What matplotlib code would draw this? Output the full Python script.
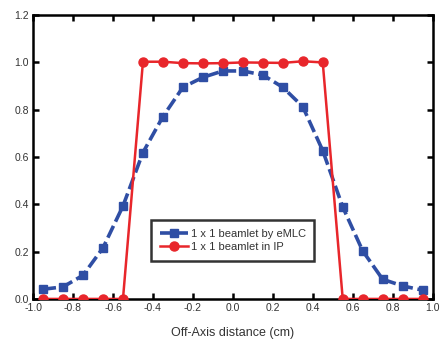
import matplotlib
matplotlib.use("Agg")
import matplotlib.pyplot as plt

x_emlc = [-0.95, -0.85, -0.75, -0.65, -0.55, -0.45, -0.35, -0.25, -0.15, -0.05,
          0.05, 0.15, 0.25, 0.35, 0.45, 0.55, 0.65, 0.75, 0.85, 0.95]
y_emlc = [0.041, 0.051, 0.100, 0.216, 0.393, 0.619, 0.771, 0.895, 0.937, 0.964,
          0.964, 0.947, 0.895, 0.813, 0.627, 0.389, 0.203, 0.083, 0.055, 0.037]
x_ip = [-0.95, -0.85, -0.75, -0.65, -0.55, -0.45, -0.35, -0.25, -0.15, -0.05,
        0.05, 0.15, 0.25, 0.35, 0.45, 0.55, 0.65, 0.75, 0.85, 0.95]
y_ip = [0.0, 0.0, 0.0, 0.0, 0.0, 1.003, 1.003, 0.997, 0.996, 0.997,
        1.0, 0.999, 0.998, 1.005, 1.0, 0.0, 0.0, 0.0, 0.0, 0.0]
xticks = [-1.0, -0.8, -0.6, -0.4, -0.2, 0.0, 0.2, 0.4, 0.6, 0.8, 1.0]
yticks = [0.0, 0.2, 0.4, 0.6, 0.8, 1.0, 1.2]

plt.rcParams['font.family'] = ['Liberation Sans', 'DejaVu Sans']

fig = plt.figure(figsize=(4.41, 3.44), dpi=100)
ax = fig.add_axes([0.075, 0.131, 0.906, 0.825])

blue = '#2f4ea4'
red = '#e8262b'
ax.plot(x_emlc, y_emlc, color=blue, lw=2.6, ls=(0, (3.6, 1.3)), marker='s',
        ms=6, mec=blue, mfc=blue, label='1 x 1 beamlet by eMLC', zorder=3)
ax.plot(x_ip, y_ip, color=red, lw=1.8, marker='o', ms=6.5, mec=red, mfc=red,
        label='1 x 1 beamlet in IP', zorder=4)

ax.set_xlim(-1.0, 1.0)
ax.set_ylim(0.0, 1.2)
ax.set_xticks(xticks)
ax.set_yticks(yticks)
ax.set_xticklabels([f'{t:.1f}' for t in xticks])
ax.set_yticklabels([f'{t:.1f}' for t in yticks])
ax.tick_params(direction='in', length=4, width=1.8, top=True, right=True,
               labelsize=7.5, labelcolor='#333333', pad=3)
for s in ax.spines.values():
    s.set_linewidth(1.8)
ax.set_xlabel('Off-Axis distance (cm)', fontsize=9, color='#333333', labelpad=10)

leg = ax.legend(loc='lower left', bbox_to_anchor=(0.296, 0.134, 0.408, 0.158),
                mode='expand', fontsize=8, frameon=True, fancybox=False,
                borderpad=0.8, handlelength=2.5, labelspacing=0.25,
                handletextpad=0.3, borderaxespad=0)
leg.get_frame().set_edgecolor('black')
leg.get_frame().set_linewidth(1.8)
for t in leg.get_texts():
    t.set_color('#333333')

fig.savefig('out.png', dpi=100)
